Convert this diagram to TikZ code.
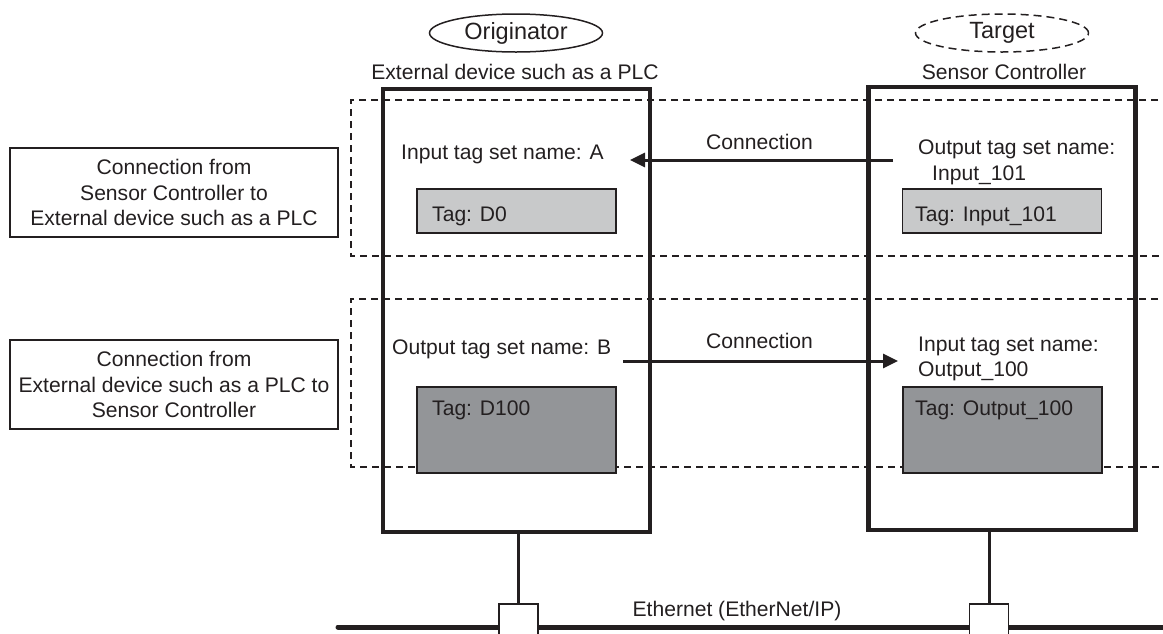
\documentclass[tikz,border=0pt]{standalone}
\usepackage{fontspec}
\setmainfont{Liberation Sans}
\usetikzlibrary{arrows.meta,shapes.geometric}
\definecolor{ink}{HTML}{231F20}
\definecolor{lightg}{HTML}{C8C9CA}
\definecolor{darkg}{HTML}{939598}
\begin{document}
\begin{tikzpicture}[x=1pt,y=-1pt,
  every node/.style={text=ink, font=\fontsize{21.1}{25.5}\selectfont, inner sep=0pt},
  txt/.style={anchor=base west},
  ctxt/.style={anchor=base},
  head/.style={ellipse, draw=ink, line width=1.5pt, minimum width=173pt, minimum height=38pt, font=\fontsize{23.5}{28}\selectfont},
  devbox/.style={draw=ink, line width=4.5pt, minimum width=267pt, minimum height=443pt},
  labelbox/.style={draw=ink, line width=2pt, minimum width=328pt, minimum height=89pt, align=center},
  tagbox/.style={draw=ink, line width=1.5pt, minimum width=199pt},
  region/.style={draw=ink, line width=1.3pt, dash pattern=on 7pt off 5pt},
  conn/.style={draw=ink, line width=3pt, -{Triangle[length=15pt,width=14pt]}},
  port/.style={draw=ink, fill=white, line width=1.5pt, minimum width=39pt, minimum height=44pt},
]
\useasboundingbox (0,0) rectangle (1163,633);

% dashed regions
\coordinate (r1a) at (1170,100);
\coordinate (r1b) at (351,100);
\coordinate (r1c) at (351,256);
\coordinate (r1d) at (1170,256);
\draw[region] (r1a) -- (r1b) -- (r1c) -- (r1d);
\coordinate (r2a) at (1170,299);
\coordinate (r2b) at (351,299);
\coordinate (r2c) at (351,467);
\coordinate (r2d) at (1170,467);
\draw[region] (r2a) -- (r2b) -- (r2c) -- (r2d);

% device boxes
\node[devbox] (orig) at (516.5,310.5) {};
\node[devbox] (targ) at (1002,308.5) {};

% headings
\node[head] (ho) at (516,33) {Originator};
\node[head, dashed, dash pattern=on 8pt off 5pt] (ht) at (1002,33) {Target};
\node[ctxt] (so) at (515,79) {External device such as a PLC};
\node[ctxt] (st) at (1004,79) {Sensor Controller};

% left labels
\node[labelbox] (lab1) at (174,192.5) {Connection from\\Sensor Controller to\\External device such as a PLC};
\node[labelbox] (lab2) at (174,384.5) {Connection from\\External device such as a PLC to\\Sensor Controller};

% tag boxes
\node[tagbox, fill=lightg, minimum height=44pt] (d0) at (516.4,211) {};
\node[tagbox, fill=lightg, minimum height=44pt] (i101) at (1002.2,211) {};
\node[tagbox, fill=darkg, minimum height=86pt] (d100) at (516.4,430) {};
\node[tagbox, fill=darkg, minimum height=86pt] (o100) at (1002.5,430) {};

% texts
\node[txt] (tA) at (401,159) {Input tag set name: A};
\node[txt] (tD0) at (432,221) {Tag: D0};
\node[txt] (tO1) at (918,154) {Output tag set name:};
\node[txt] (tO2) at (932,180) {Input\_101};
\node[txt] (tI101) at (915,221) {Tag: Input\_101};
\node[txt] (tB) at (392,354) {Output tag set name: B};
\node[txt] (tD100) at (432,415) {Tag: D100};
\node[txt] (tI1) at (918,351) {Input tag set name:};
\node[txt] (tI2) at (918,376) {Output\_100};
\node[txt] (tO100) at (915,415) {Tag: Output\_100};

% connections
\coordinate (a1s) at (893,160);
\coordinate (a1e) at (630,160);
\draw[conn] (a1s) -- (a1e);
\node[txt] (c1) at (706,149) {Connection};
\coordinate (a2s) at (623,361);
\coordinate (a2e) at (898,361);
\draw[conn] (a2s) -- (a2e);
\node[txt] (c2) at (706,348) {Connection};

% ethernet
\coordinate (eL) at (338,627);
\coordinate (eR) at (1175,627);
\draw[ink, line width=5pt, line cap=round] (eL) -- (eR);
\node[port] (pl) at (518.5,626) {};
\node[port] (pr) at (989,626) {};
\draw[ink, line width=3pt] (pl.north |- orig.south) -- (pl.north);
\draw[ink, line width=3pt] (pr.north |- targ.south) -- (pr.north);
\node[ctxt] (eth) at (737,616) {Ethernet (EtherNet/IP)};
\end{tikzpicture}
\end{document}
